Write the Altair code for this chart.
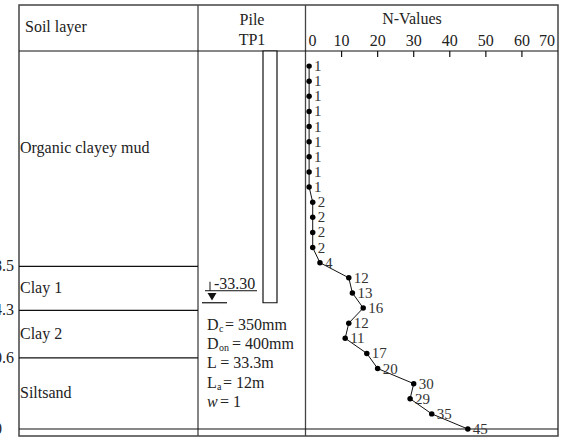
import altair as alt
import pandas as pd

# ---------------- data ----------------
layer_names = ["Organic clayey mud", "Clay 1", "Clay 2", "Siltsand"]
layer_top = [0.0, 28.5, 34.3, 40.6]
layer_bottom = [28.5, 34.3, 40.6, 50.0]
layer_label_depth = [12.8, 31.3, 37.4, 45.2]
boundary_labels = ["28.5", "34.3", "40.6", "50"]

spt_depth = [2, 4, 6, 8, 10, 12, 14, 16, 18, 20, 22, 24, 26, 28, 30, 32, 34,
             36, 38, 40, 42, 44, 46, 48, 50]
n_values = [1, 1, 1, 1, 1, 1, 1, 1, 1, 2, 2, 2, 2, 4, 12, 13, 16, 12, 11, 17,
            20, 30, 29, 35, 45]

n_ticks = [0, 10, 20, 30, 40, 50, 60, 70]

pile_top = 0.0
pile_length = 33.3
pile_tip_label = "-33.30"

# ---------------- frames ----------------
layers_df = pd.DataFrame({"name": layer_names, "top": layer_top,
                          "bottom": layer_bottom, "label_depth": layer_label_depth,
                          "blabel": boundary_labels})
spt_df = pd.DataFrame({"depth": spt_depth, "N": n_values})
ticks_df = pd.DataFrame({"N": n_ticks})
pile_df = pd.DataFrame({"top": [pile_top], "tip": [pile_length], "label": [pile_tip_label]})
one = pd.DataFrame({"a": [0]})

W, H = 563, 441
yscale = alt.Scale(domain=[-6.746, 51.587], range=[0, H], nice=False, zero=False)
xscale = alt.Scale(domain=[-84.70, 71.39], range=[0, W], nice=False, zero=False)

FONT = "Liberation Serif"
FS = 16
TC = "#222222"
FRAME = "#444444"


def txt(**kw):
    base = dict(font=FONT, fontSize=FS, color=TC, baseline="middle")
    base.update(kw)
    return base


def Y(field):
    return alt.Y(field, type="quantitative", scale=yscale, axis=None)


def X(field):
    return alt.X(field, type="quantitative", scale=xscale, axis=None)


# outer frame
frame = alt.Chart(one).mark_rect(fillOpacity=0, stroke=FRAME, strokeWidth=1.5).encode(
    x=alt.value(19), x2=alt.value(558), y=alt.value(5), y2=alt.value(436))
div1 = alt.Chart(one).mark_rule(color=FRAME, strokeWidth=1.3).encode(
    x=alt.value(198), y=alt.value(5), y2=alt.value(436))
div2 = alt.Chart(one).mark_rule(color=FRAME, strokeWidth=1.3).encode(
    x=alt.value(305.5), y=alt.value(5), y2=alt.value(436))

# ground surface (header line) and bottom line
ground = alt.Chart(pile_df).mark_rule(color="#111", strokeWidth=1.2).encode(
    y=Y("top"), x=alt.value(19), x2=alt.value(558))
bottom_line = alt.Chart(layers_df).transform_filter("datum.bottom >= 50").mark_rule(
    color="#111", strokeWidth=1.2).encode(y=Y("bottom"), x=alt.value(19), x2=alt.value(558))

# layer boundaries
boundaries = alt.Chart(layers_df).transform_filter("datum.bottom < 50").mark_rule(
    color="#111", strokeWidth=1.2).encode(y=Y("bottom"), x=alt.value(19), x2=alt.value(198))
layer_text = alt.Chart(layers_df).mark_text(**txt(align="left")).encode(
    y=Y("label_depth"), x=alt.value(20), text="name:N")
bnd_text = alt.Chart(layers_df).mark_text(**txt(align="left")).encode(
    y=Y("bottom"), x=alt.value(-14), text="blabel:N")

# headers
h_soil = alt.Chart(one).mark_text(**txt(align="left")).encode(
    x=alt.value(25), y=alt.value(27), text=alt.value("Soil layer"))
h_pile = alt.Chart(one).mark_text(**txt(align="center")).encode(
    x=alt.value(252), y=alt.value(20), text=alt.value("Pile"))
h_tp1 = alt.Chart(one).mark_text(**txt(align="center")).encode(
    x=alt.value(252), y=alt.value(40), text=alt.value("TP1"))
h_n = alt.Chart(one).mark_text(**txt(align="center")).encode(
    x=alt.value(412), y=alt.value(19), text=alt.value("N-Values"))

# N axis labels and ticks
tick_lab_mid = alt.Chart(ticks_df).transform_filter("datum.N > 0 && datum.N < 70").mark_text(
    **txt(align="center")).encode(x=X("N"), y=alt.value(41), text="N:Q")
tick_lab_0 = alt.Chart(ticks_df).transform_filter("datum.N == 0").mark_text(
    **txt(align="left", dx=3)).encode(x=X("N"), y=alt.value(41), text="N:Q")
tick_lab_70 = alt.Chart(ticks_df).transform_filter("datum.N == 70").mark_text(
    **txt(align="right", dx=-3)).encode(x=X("N"), y=alt.value(41), text="N:Q")
tick_marks = alt.Chart(ticks_df).transform_filter("datum.N > 0 && datum.N < 70").mark_rule(
    color="#111", strokeWidth=1.2).encode(x=X("N"), y=alt.value(51), y2=alt.value(57))

# pile
pile = alt.Chart(pile_df).mark_rect(fill="white", stroke="#111", strokeWidth=1.2).encode(
    y=Y("top"), y2="tip:Q", x=alt.value(263), x2=alt.value(277))
tip_text = alt.Chart(pile_df).mark_text(**txt(align="left", dy=-19)).encode(
    y=Y("tip"), x=alt.value(214), text="label:N")
tip_under = alt.Chart(pile_df).mark_rule(color="#111", yOffset=-12).encode(
    y=Y("tip"), x=alt.value(205), x2=alt.value(257))
tip_vert = alt.Chart(pile_df).mark_rule(color="#111", yOffset=-21, y2Offset=-12).encode(
    y=Y("tip"), y2="tip:Q", x=alt.value(210))
tip_tri = alt.Chart(pile_df).mark_point(shape="triangle-down", filled=True, color="#111",
                                        size=80, yOffset=-6, opacity=1).encode(
    y=Y("tip"), x=alt.value(212))
tip_base = alt.Chart(pile_df).mark_rule(color="#111", strokeWidth=1.2).encode(
    y=Y("tip"), x=alt.value(202), x2=alt.value(227))

# pile properties text
props = []
rows = [
    (325, "D", "c", "= 350mm", 219, 225),
    (344, "D", "on", "= 400mm", 219, 232),
    (383, "L", "a", "= 12m", 217, 223),
]
for yy, main, sub, rest, xs, xr in rows:
    props.append(alt.Chart(one).mark_text(**txt(align="left")).encode(
        x=alt.value(207), y=alt.value(yy), text=alt.value(main)))
    props.append(alt.Chart(one).mark_text(**txt(align="left", fontSize=10, dy=4)).encode(
        x=alt.value(xs), y=alt.value(yy), text=alt.value(sub)))
    props.append(alt.Chart(one).mark_text(**txt(align="left")).encode(
        x=alt.value(xr), y=alt.value(yy), text=alt.value(rest)))
props.append(alt.Chart(one).mark_text(**txt(align="left")).encode(
    x=alt.value(207), y=alt.value(363), text=alt.value("L = 33.3m")))
props.append(alt.Chart(one).mark_text(**txt(align="left", fontStyle="italic")).encode(
    x=alt.value(207), y=alt.value(402), text=alt.value("w")))
props.append(alt.Chart(one).mark_text(**txt(align="left")).encode(
    x=alt.value(220), y=alt.value(402), text=alt.value("= 1")))

# SPT profile
spt_line = alt.Chart(spt_df).mark_line(color="#111", strokeWidth=1).encode(
    x=X("N"), y=Y("depth"), order="depth:Q")
spt_pts = alt.Chart(spt_df).mark_circle(color="#000", size=30, opacity=1).encode(
    x=X("N"), y=Y("depth"))
spt_lab = alt.Chart(spt_df).mark_text(**txt(align="left", dx=5, fontSize=15, color="#333")).encode(
    x=X("N"), y=Y("depth"), text="N:Q")

chart = alt.layer(
    frame, div1, div2, ground, bottom_line, boundaries, layer_text, bnd_text,
    h_soil, h_pile, h_tp1, h_n, tick_lab_mid, tick_lab_0, tick_lab_70, tick_marks,
    pile, tip_text, tip_under, tip_vert, tip_tri, tip_base, *props,
    spt_line, spt_pts, spt_lab,
).properties(
    width=W, height=H,
    autosize=alt.AutoSizeParams(type="none"),
    padding={"left": 0, "top": 0, "right": 0, "bottom": 0},
    background="white",
).configure_view(strokeWidth=0)

chart.save("out.html", embed_options={"renderer": "svg", "actions": False})
